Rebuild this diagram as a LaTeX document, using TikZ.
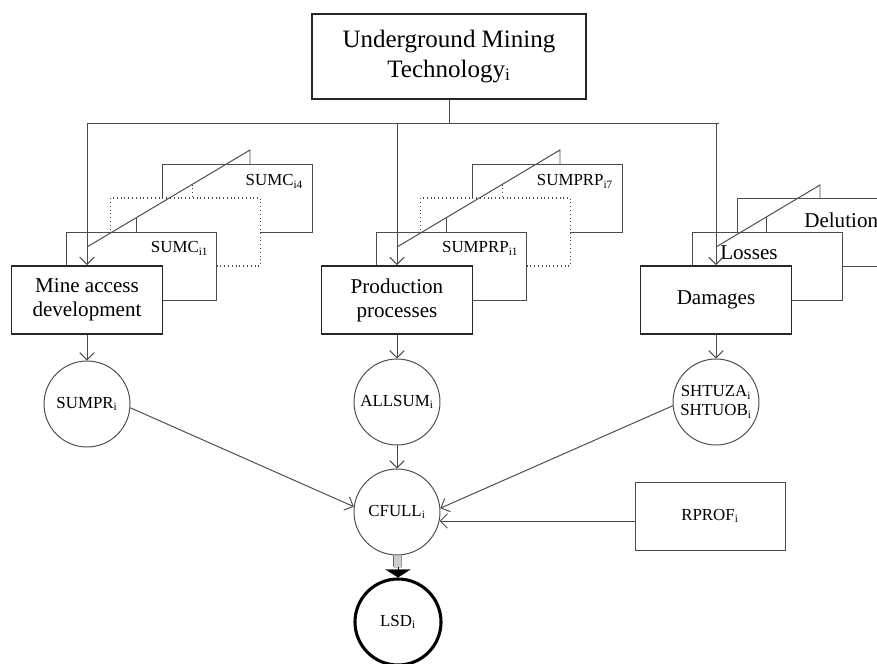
\documentclass[tikz,border=0pt]{standalone}
\usepackage{fontspec}
\setmainfont{Liberation Serif}
\usetikzlibrary{arrows.meta}

\begin{document}
\begin{tikzpicture}[
  gline/.style={draw=black!70, line width=0.7pt},
  arr/.style={gline, -{Straight Barb[length=1.8mm,width=3.6mm]}},
  titlebox/.style={draw=black!85, line width=1.3pt, minimum width=6.85cm, minimum height=2.125cm, align=center, font=\fontsize{17.8}{21}\selectfont},
  mainbox/.style={draw=black!85, line width=1.3pt, fill=white, minimum width=3.775cm, minimum height=1.7cm, align=center, font=\fontsize{15}{17}\selectfont},
  stackbox/.style={gline, fill=white, minimum width=3.75cm, minimum height=1.7cm},
  dotbox/.style={stackbox, dotted, line width=0.9pt},
  sumnode/.style={circle, gline, minimum size=2.15cm, inner sep=0pt, align=center, font=\fontsize{12}{13.5}\selectfont},
  small/.style={font=\fontsize{12}{14}\selectfont, inner sep=0pt},
  big/.style={font=\fontsize{15}{17}\selectfont, inner sep=0pt},
  lsdshaft/.style={draw=black!60, line width=0.6pt, double=black!20, double distance=0.17cm},
  lsdtip/.style={black, line width=0.2pt, -{Triangle[length=0.2cm,width=0.625cm]}}
]
\useasboundingbox (0,0) rectangle (21.925,-16.6);

\foreach \g/\x/\lo/\hi in {mc/2.175/{SUMC\textsubscript{i1}}/{SUMC\textsubscript{i4}}, pr/9.925/{SUMPRP\textsubscript{i1}}/{SUMPRP\textsubscript{i7}}} {
  \node[stackbox] (\g4) at (\x+3.77,-4.95) {};
  \node[dotbox] (\g2) at (\x+2.46,-5.8) {};
  \node[stackbox] (\g1) at (\x+1.35,-6.65) {};
  \node[small, anchor=east] (\g4t) at ([xshift=-0.25cm,yshift=-0.45cm]\g4.north east) {\hi};
  \node[small, anchor=east] (\g1t) at ([xshift=-0.2cm,yshift=-0.42cm]\g1.north east) {\lo};
}
\node[stackbox] (del) at (20.3,-5.8) {};
\node[stackbox] (los) at (19.175,-6.65) {};
\node[big, anchor=west] (delt) at (20.1,-5.5) {Delution};
\node[big] (lost) at (18.725,-6.325) {Losses};

\node[titlebox] (umt) at (11.225,-1.41) {Underground Mining\\Technology\textsubscript{i}};
\node[mainbox] (ma) at (2.175,-7.5) {Mine access\\development};
\node[mainbox] (pp) at (9.925,-7.5) {Production\\processes};
\node[mainbox] (dm) at (17.9,-7.5) {Damages};

\coordinate (bus) at (11.225,-3.075);
\coordinate (busl) at (2.175,-3.075);
\coordinate (busr) at (17.975,-3.075);
\draw[gline] (umt.south) -- (bus);
\draw[gline] (busl) -- (busr);
\foreach \n in {ma,pp,dm} {
  \draw[arr] (bus -| \n.north) -- (\n.north);
}

\foreach \x in {2.175, 9.925} {
  \draw[gline] (\x,-6.175) -- (\x+4.075,-3.75) -- (\x+4.075,-4.1);
  \draw[gline] (\x+1.225,-5.446) -- (\x+1.225,-5.8);
  \draw[gline, dotted] (\x+2.625,-4.613) -- (\x+2.625,-4.95);
}
\draw[gline] (17.9,-6.175) -- (20.5,-4.625) -- (20.5,-4.95);
\draw[gline] (19.15,-5.43) -- (19.15,-5.8);

\node[sumnode] (sp) at (2.175,-10.1) {SUMPR\textsubscript{i}};
\node[sumnode] (as) at (9.925,-10.05) {ALLSUM\textsubscript{i}};
\node[sumnode] (sh) at (17.9,-10.05) {SHTUZA\textsubscript{i}\\SHTUOB\textsubscript{i}};
\node[sumnode] (cf) at (9.925,-12.8) {CFULL\textsubscript{i}};
\node[sumnode, draw=black, line width=2.2pt] (lsd) at (9.95,-15.55) {LSD\textsubscript{i}};
\node[stackbox, font=\fontsize{12}{14}\selectfont] (rp) at (17.75,-12.9) {RPROF\textsubscript{i}};

\draw[arr] (ma) -- (sp);
\draw[arr] (pp) -- (as);
\draw[arr] (dm) -- (sh);
\draw[arr] (as) -- (cf);
\draw[arr] (sp.-5) -- (cf.173);
\draw[arr] (sh.185) -- (cf.5);
\draw[arr] (cf.-12 -| rp.west) -- (cf.-12);
\draw[lsdshaft, shorten >=0.25cm] (cf) -- (lsd);
\draw[lsdtip] ([yshift=0.25cm]lsd.north) -- (lsd.north);
\end{tikzpicture}
\end{document}
